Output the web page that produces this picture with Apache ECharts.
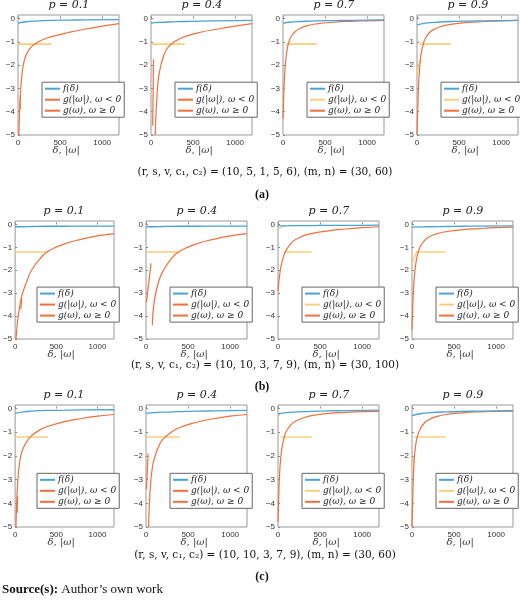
<!DOCTYPE html>
<html lang="en">
<head>
    <meta charset="UTF-8">
    <title>Chart</title>
    <script src="https://cdn.jsdelivr.net/npm/echarts@6/dist/echarts.min.js"></script>
    <style>
        html, body { margin: 0; padding: 0; background: #fff; }
        #main { width: 520px; height: 601px; }
    </style>
</head>
<body>
<div id="main"></div>
<script>
    // 横轴采样点
    var xGrid = [0, 10, 20, 30, 50, 75, 100, 150, 200, 300, 400, 600, 800, 1000, 1200];
    var fX = [0, 100, 200, 400, 600, 800, 1200];
    var pLabels = ['0.1', '0.4', '0.7', '0.9'];
    var captions = [
        '(r, s, v, c\u2081, c\u2082) = (10, 5, 1, 5, 6), (m, n) = (30, 60)',
        '(r, s, v, c\u2081, c\u2082) = (10, 10, 3, 7, 9), (m, n) = (30, 100)',
        '(r, s, v, c\u2081, c\u2082) = (10, 10, 3, 7, 9), (m, n) = (30, 60)'
    ];
    var rowTags = ['(a)', '(b)', '(c)'];

    // g(ω), ω ≥ 0 (橙色主曲线)
    var gPos = [
        [null, -5, -3.9, -3.2, -2.3, -1.8, -1.55, -1.25, -1.1, -0.9, -0.78, -0.6, -0.45, -0.33, -0.22],
        [null, null, null, null, -5, -3.1, -2.3, -1.6, -1.25, -0.95, -0.78, -0.58, -0.45, -0.33, -0.22],
        [-4.3, -3.2, -2.4, -1.9, -1.3, -0.95, -0.75, -0.55, -0.43, -0.3, -0.23, -0.16, -0.12, -0.1, -0.08],
        [-5, -3.8, -2.8, -2.2, -1.5, -1.1, -0.85, -0.6, -0.47, -0.33, -0.25, -0.17, -0.13, -0.1, -0.08],
        [null, -5, -4.6, -4.2, -3.7, -3.2, -2.9, -2.4, -2.0, -1.5, -1.17, -0.85, -0.65, -0.5, -0.4],
        [null, null, null, null, null, -4.4, -3.3, -2.5, -2.05, -1.5, -1.17, -0.85, -0.65, -0.5, -0.4],
        [-2.9, -2.5, -2.2, -1.95, -1.6, -1.3, -1.1, -0.85, -0.68, -0.5, -0.4, -0.28, -0.2, -0.14, -0.1],
        [-4.6, -3.5, -2.7, -2.2, -1.6, -1.2, -0.95, -0.7, -0.55, -0.4, -0.32, -0.23, -0.18, -0.14, -0.12],
        [null, -5, -3.9, -3.2, -2.4, -1.9, -1.65, -1.35, -1.15, -0.9, -0.75, -0.55, -0.42, -0.32, -0.25],
        [null, null, null, -5, -3.4, -2.5, -2.1, -1.6, -1.3, -1.0, -0.8, -0.58, -0.43, -0.32, -0.25],
        [-4.8, -3.6, -2.7, -2.2, -1.6, -1.2, -0.95, -0.7, -0.55, -0.4, -0.3, -0.2, -0.16, -0.13, -0.12],
        [-5, -3.6, -2.6, -2.0, -1.4, -1.05, -0.85, -0.6, -0.47, -0.33, -0.25, -0.18, -0.14, -0.12, -0.11]
    ];
    // f(δ) 蓝色曲线
    var fVals = [
        [-0.2, -0.14, -0.11, -0.08, -0.07, -0.06, -0.05],
        [-0.2, -0.17, -0.15, -0.13, -0.11, -0.1, -0.08],
        [-0.2, -0.15, -0.13, -0.1, -0.09, -0.08, -0.06],
        [-0.28, -0.2, -0.17, -0.13, -0.11, -0.1, -0.08],
        [-0.1, -0.1, -0.09, -0.08, -0.08, -0.07, -0.07],
        [-0.1, -0.1, -0.09, -0.08, -0.08, -0.07, -0.07],
        [-0.06, -0.06, -0.05, -0.05, -0.04, -0.04, -0.03],
        [-0.12, -0.11, -0.1, -0.09, -0.08, -0.07, -0.06],
        [-0.2, -0.14, -0.11, -0.08, -0.07, -0.06, -0.05],
        [-0.2, -0.17, -0.15, -0.13, -0.11, -0.1, -0.08],
        [-0.22, -0.17, -0.15, -0.12, -0.1, -0.09, -0.07],
        [-0.3, -0.22, -0.18, -0.14, -0.12, -0.11, -0.09]
    ];
    // g(|ω|), ω < 0 的水平段 [起点x, 水平值]
    var gNegFlat = [
        [0, -1.1], [0, -1.1], [30, -1.1], [30, -1.1],
        [0, -1.2], [0, -1.2], [80, -1.2], [60, -1.2],
        [0, -1.2], [0, -1.2], [30, -1.2], [30, -1.2]
    ];
    var gNegEnd = 400;
    // g(|ω|) 上升短段
    var gNegRise = [
        null, null, [[0, -0.3], [20, -0.2]], [[0, -2.4], [30, -1.8]],
        null, null, [[0, -0.2], [80, -0.05]], [[0, -1.75], [60, -1.15]],
        null, null, [[0, -0.35], [30, -0.2]], [[0, -2.5], [30, -1.95]]
    ];
    // 橙色短段
    var gPosSpike = [
        [[25, -3.9], [28, -3.3]], [[20, -4.6], [30, -1.75]], null, null,
        [[70, -3.7], [80, -3.2]], [[5, -3.4], [60, -1.7]], null, null,
        [[25, -4.4], [30, -3.7]], [[5, -3.4], [25, -1.9]], null, null
    ];

    var BLUE = '#4aa3d8', ORANGE = '#f0703c', YELLOW = '#f7d07a';
    var rowTop = [15, 221, 405], rowH = [120, 118, 122];
    var colLeft = [[18, 151, 283, 417], [13, 146, 278, 412], [13, 146, 278, 412]];
    var W = 101;

    var grids = [], xAxes = [], yAxes = [], series = [], legends = [], graphics = [];
    for (var i = 0; i < 12; i++) {
        var r = Math.floor(i / 4), c = i % 4;
        var L = colLeft[r][c], T = rowTop[r], H = rowH[r];
        grids.push({left: L, top: T, width: W, height: H, show: true, borderColor: '#999', borderWidth: 1, backgroundColor: '#fff'});
        xAxes.push({type: 'value', gridIndex: i, min: 0, max: 1200, interval: 500,
            axisLine: {show: false}, splitLine: {show: false},
            axisTick: {inside: true, length: 2, lineStyle: {color: '#888'}},
            axisLabel: {fontSize: 8, color: '#333', margin: 4, formatter: function (v) { return String(v); }}});
        yAxes.push({type: 'value', gridIndex: i, min: -5, max: 0.15, interval: 1,
            axisLine: {show: false}, splitLine: {show: false},
            axisTick: {inside: true, length: 2, lineStyle: {color: '#888'}},
            axisLabel: {fontSize: 8, color: '#333', margin: 3,
                formatter: function (v) { return v === 0 ? '0' : ('\u2212' + Math.abs(v)); }}});

        var fData = fX.map(function (x, k) { return [x, fVals[i][k]]; });
        var gData = [];
        xGrid.forEach(function (x, k) { if (gPos[i][k] !== null) gData.push([x, gPos[i][k]]); });
        var nData = [[gNegFlat[i][0], gNegFlat[i][1]], [gNegEnd, gNegFlat[i][1]]];
        var common = {type: 'line', xAxisIndex: i, yAxisIndex: i, showSymbol: false, silent: true, animation: false};

        series.push(Object.assign({}, common, {name: 'gn' + i, data: nData, lineStyle: {color: YELLOW, width: 1.6}, itemStyle: {color: YELLOW}}));
        if (gNegRise[i]) series.push(Object.assign({}, common, {name: 'gn' + i, data: gNegRise[i], lineStyle: {color: YELLOW, width: 1.3}}));
        series.push(Object.assign({}, common, {name: 'gp' + i, data: gData, smooth: true, lineStyle: {color: ORANGE, width: 1.2}, itemStyle: {color: ORANGE}}));
        if (gPosSpike[i]) series.push(Object.assign({}, common, {name: 'gp' + i, data: gPosSpike[i], lineStyle: {color: ORANGE, width: 1.2}}));
        series.push(Object.assign({}, common, {name: 'f' + i, data: fData, smooth: true, lineStyle: {color: BLUE, width: 1.3}, itemStyle: {color: BLUE}}));

        var negColor = c < 2 ? ORANGE : YELLOW;
        legends.push({
            orient: 'vertical', left: L + 24, top: T + H * 0.56, selectedMode: false,
            backgroundColor: '#fff', borderColor: '#666', borderWidth: 1,
            padding: [2, 3], itemGap: 2, itemWidth: 15, itemHeight: 2, icon: 'rect',
            textStyle: {fontSize: 9, fontFamily: 'DejaVu Serif', fontStyle: 'italic', color: '#222', padding: [0, 0, 0, -2]},
            formatter: function (n) {
                if (n.charAt(0) === 'f') return 'f(\u03b4)';
                if (n.indexOf('gn') === 0) return 'g(|\u03c9|), \u03c9 < 0';
                return 'g(\u03c9), \u03c9 \u2265 0';
            },
            data: [
                {name: 'f' + i, itemStyle: {color: BLUE}},
                {name: 'gn' + i, itemStyle: {color: negColor}},
                {name: 'gp' + i, itemStyle: {color: ORANGE}}
            ]
        });

        graphics.push({type: 'text', left: L + W / 2 - 20, top: T - 15,
            style: {text: 'p = ' + pLabels[c], fontSize: 11, fontFamily: 'DejaVu Serif', fill: '#222', fontStyle: 'italic'}});
        graphics.push({type: 'text', left: L + W / 2 - 16, top: T + H + 10,
            style: {text: '\u03b4, |\u03c9|', fontSize: 10, fontFamily: 'DejaVu Serif', fontStyle: 'italic', fill: '#333'}});
    }

    var capY = [167, 360, 550], tagY = [189, 381, 571];
    for (var k = 0; k < 3; k++) {
        graphics.push({type: 'text', x: 265, y: capY[k],
            style: {text: captions[k], fontSize: 10.5, fontFamily: 'DejaVu Serif', fill: '#111', align: 'center'}});
        graphics.push({type: 'text', x: 262, y: tagY[k],
            style: {text: rowTags[k], fontSize: 12, fontWeight: 'bold', fontFamily: 'Liberation Serif', fill: '#111', align: 'center'}});
    }
    graphics.push({type: 'text', x: 2, y: 583,
        style: {text: '{b|Source(s):} Author\u2019s own work', fontSize: 13, fontFamily: 'Liberation Serif', fill: '#111',
            rich: {b: {fontWeight: 'bold', fontSize: 13, fontFamily: 'Liberation Serif'}}}});

    echarts.init(document.getElementById('main')).setOption({
        animation: false,
        grid: grids, xAxis: xAxes, yAxis: yAxes, series: series, legend: legends, graphic: graphics
    });
</script>
</body>
</html>
